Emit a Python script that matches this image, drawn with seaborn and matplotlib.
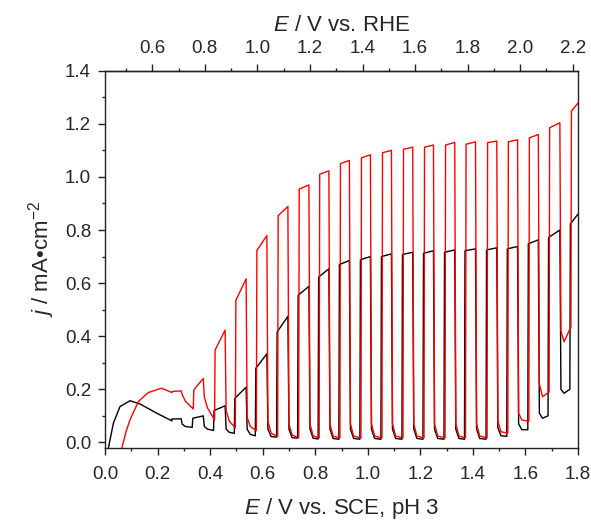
import matplotlib
matplotlib.use("Agg")
import matplotlib.pyplot as plt
from matplotlib.ticker import MultipleLocator
import numpy as np
import seaborn as sns
import pandas as pd

# chopped-light sweep: potentials (V vs. SCE) where the light goes on / off
chop_on = [0.255, 0.336, 0.417, 0.496, 0.576, 0.657, 0.737, 0.815, 0.894, 0.974,
           1.054, 1.134, 1.214, 1.294, 1.372, 1.454, 1.533, 1.613, 1.690, 1.773]
chop_off = [0.290, 0.374, 0.457, 0.537, 0.616, 0.696, 0.776, 0.852, 0.930, 1.010,
            1.090, 1.171, 1.250, 1.331, 1.410, 1.491, 1.570, 1.649, 1.731, 1.800]

# red trace (mA cm-2)
red_e_start = [0.064, 0.080, 0.095, 0.127, 0.165, 0.215, 0.255]
red_j_start = [-0.021, 0.040, 0.085, 0.154, 0.188, 0.204, 0.188]
red_on_start = [0.192, 0.198, 0.348, 0.535, 0.723, 0.854, 0.954, 1.010, 1.050, 1.072,
                1.091, 1.104, 1.112, 1.120, 1.123, 1.129, 1.132, 1.147, 1.185, 1.248]
red_on_end = [0.194, 0.241, 0.423, 0.616, 0.779, 0.889, 0.970, 1.023, 1.062, 1.083,
              1.100, 1.112, 1.120, 1.130, 1.132, 1.135, 1.140, 1.160, 1.204, 1.278]
red_knee = [0.180, 0.170, 0.120, 0.095, 0.080, 0.070, 0.070, 0.070, 0.070, 0.070,
            0.070, 0.070, 0.070, 0.070, 0.070, 0.080, 0.110, 0.220, 0.420]
red_min = [0.155, 0.130, 0.080, 0.060, 0.035, 0.028, 0.025, 0.024, 0.024, 0.024,
           0.024, 0.024, 0.024, 0.024, 0.024, 0.040, 0.085, 0.172, 0.379]
red_floor = [0.126, 0.085, 0.055, 0.044, 0.022, 0.018, 0.017, 0.017, 0.017, 0.017,
             0.017, 0.017, 0.017, 0.017, 0.017, 0.035, 0.079, 0.190, 0.435]

# black trace (mA cm-2)
blk_e_start = [0.013, 0.032, 0.057, 0.095, 0.133, 0.197, 0.255]
blk_j_start = [-0.021, 0.073, 0.135, 0.157, 0.145, 0.110, 0.081]
blk_on_start = [0.088, 0.091, 0.120, 0.166, 0.279, 0.416, 0.554, 0.623, 0.670, 0.688,
                0.700, 0.708, 0.712, 0.716, 0.722, 0.725, 0.729, 0.748, 0.772, 0.823]
blk_on_end = [0.089, 0.100, 0.138, 0.208, 0.334, 0.475, 0.588, 0.654, 0.685, 0.700,
              0.710, 0.716, 0.722, 0.725, 0.729, 0.733, 0.738, 0.763, 0.800, 0.860]
blk_knee = [0.068, 0.060, 0.050, 0.050, 0.050, 0.050, 0.050, 0.050, 0.050, 0.050,
            0.050, 0.050, 0.050, 0.050, 0.050, 0.055, 0.070, 0.110, 0.200]
blk_min = [0.060, 0.050, 0.038, 0.030, 0.022, 0.018, 0.016, 0.015, 0.015, 0.015,
           0.015, 0.015, 0.015, 0.015, 0.015, 0.025, 0.048, 0.091, 0.185]
blk_floor = [0.057, 0.045, 0.034, 0.025, 0.020, 0.016, 0.013, 0.012, 0.012, 0.012,
             0.012, 0.012, 0.012, 0.012, 0.012, 0.023, 0.048, 0.100, 0.200]

RHE_OFFSET = 0.42  # E(RHE) = E(SCE) + 0.241 + 0.059*pH


def build_trace(e_start, j_start, on_start, on_end, knee, jmin, floor, lead=0.0):
    # lead: the black trace switches on a few mV before the red one
    e = list(e_start)
    j = list(j_start)
    n = len(chop_on)
    for k in range(n):
        e += [chop_on[k] - lead + 0.002, chop_off[k]]
        j += [on_start[k], on_end[k]]
        if k < n - 1:
            e += [chop_off[k] + 0.004, chop_off[k] + 0.016, chop_on[k + 1] - lead]
            j += [knee[k], jmin[k], floor[k]]
    return pd.DataFrame({"E": e, "j": j})


red = build_trace(red_e_start, red_j_start, red_on_start, red_on_end,
                  red_knee, red_min, red_floor)
blk = build_trace(blk_e_start, blk_j_start, blk_on_start, blk_on_end,
                  blk_knee, blk_min, blk_floor, lead=0.004)

sns.set_style("ticks")
plt.rcParams["font.family"] = ["Liberation Sans", "DejaVu Sans"]
plt.rcParams["mathtext.fontset"] = "custom"
plt.rcParams["mathtext.rm"] = "Liberation Sans"
plt.rcParams["mathtext.it"] = "Liberation Sans:italic"

fig = plt.figure(figsize=(5.91, 5.23), dpi=100)
ax = fig.add_axes([105 / 591, 1 - 448 / 523, 473 / 591, 377.3 / 523])

sns.lineplot(data=blk, x="E", y="j", sort=False, estimator=None,
             color="black", lw=1.0, ax=ax)
sns.lineplot(data=red, x="E", y="j", sort=False, estimator=None,
             color="#ff0000", lw=1.0, ax=ax)

ax.set_xlim(0, 1.8)
ax.set_ylim(-0.021, 1.4)
ax.xaxis.set_major_locator(MultipleLocator(0.2))
ax.xaxis.set_minor_locator(MultipleLocator(0.1))
ax.yaxis.set_major_locator(MultipleLocator(0.2))
ax.yaxis.set_minor_locator(MultipleLocator(0.1))
ax.xaxis.set_major_formatter(lambda v, p: f"{v:.1f}")
ax.yaxis.set_major_formatter(lambda v, p: f"{v:.1f}")

for s in ax.spines.values():
    s.set_visible(True)
    s.set_linewidth(1.0)
    s.set_color("#222222")

ax.tick_params(which="major", direction="out", length=5, width=1.0,
               labelsize=13.5, color="#222222")
ax.tick_params(which="minor", direction="out", length=2.5, width=1.0,
               color="#222222")
ax.tick_params(axis="x", which="major", pad=8)
ax.tick_params(axis="y", which="major", pad=5)
ax.tick_params(right=False, top=False, which="both")

ax.set_xlabel(r"$\it{E}$ / V vs. SCE, pH 3", fontsize=16, labelpad=9)
ax.set_ylabel(r"$\it{j}$ / mA" + "\u2022" + r"cm$^{-2}$", fontsize=16, labelpad=6)

top = ax.secondary_xaxis("top", functions=(lambda x: x + RHE_OFFSET,
                                           lambda x: x - RHE_OFFSET))
top.set_xticks(np.arange(0.6, 2.21, 0.2))
top.xaxis.set_minor_locator(MultipleLocator(0.1))
top.xaxis.set_major_formatter(lambda v, p: f"{v:.1f}")
top.tick_params(which="major", direction="out", length=5, width=1.0,
                labelsize=13.5, pad=5, color="#222222")
top.tick_params(which="minor", direction="out", length=2.5, width=1.0,
                color="#222222")
top.spines["top"].set_linewidth(1.0)
top.set_xlabel(r"$\it{E}$ / V vs. RHE", fontsize=16, labelpad=6)

fig.savefig("out.png", dpi=100)
